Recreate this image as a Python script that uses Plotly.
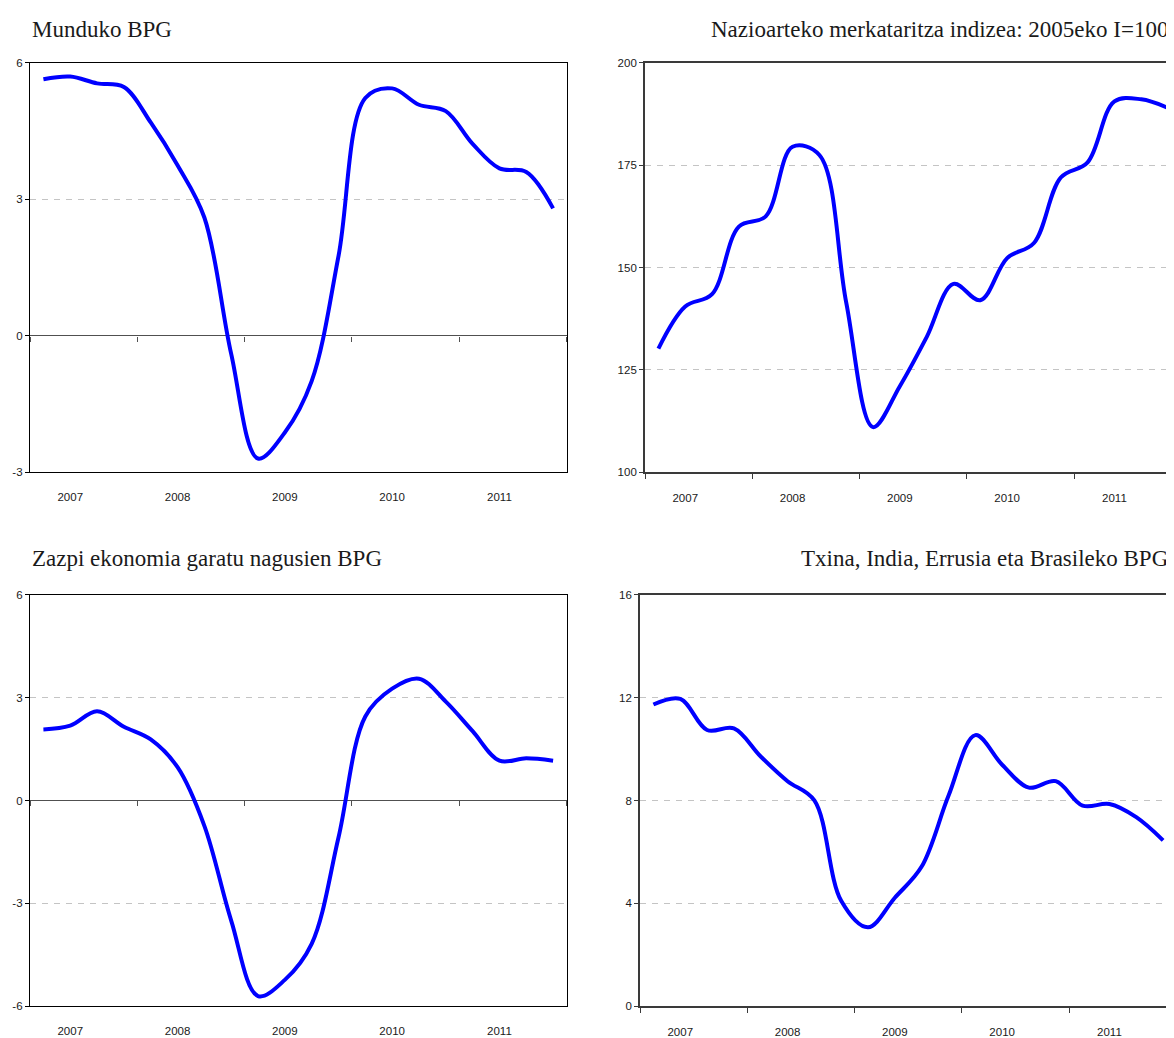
import plotly.graph_objects as go

# ---------------- data ----------------
quarters = ["2007Q1", "2007Q2", "2007Q3", "2007Q4",
            "2008Q1", "2008Q2", "2008Q3", "2008Q4",
            "2009Q1", "2009Q2", "2009Q3", "2009Q4",
            "2010Q1", "2010Q2", "2010Q3", "2010Q4",
            "2011Q1", "2011Q2", "2011Q3", "2011Q4"]
year_labels = ["2007", "2008", "2009", "2010", "2011"]

world_gdp = [5.64, 5.70, 5.55, 5.47, 4.69, 3.75, 2.60, -0.40, -2.70, -2.13,
             -1.00, 1.75, 5.23, 5.44, 5.08, 4.94, 4.22, 3.68, 3.60, 2.80]
trade_index = [130.2, 140.5, 143.5, 160.0, 162.5, 179.5, 177.5, 141.5, 111.0, 121.0,
               133.0, 146.0, 142.0, 152.3, 156.0, 172.0, 175.7, 190.6, 191.1, 189.0]
g7_gdp = [2.07, 2.18, 2.60, 2.15, 1.78, 0.97, -0.74, -3.50, -5.70, -5.23,
          -4.18, -1.08, 2.45, 3.26, 3.55, 2.88, 2.02, 1.16, 1.23, 1.16]
bric_gdp = [11.73, 11.95, 10.74, 10.80, 9.71, 8.75, 8.00, 4.10, 3.07, 4.22,
            5.43, 8.18, 10.54, 9.39, 8.50, 8.75, 7.80, 7.86, 7.35, 6.45]

titles = ["Munduko BPG",
          "Nazioarteko merkataritza indizea: 2005eko I=100",
          "Zazpi ekonomia garatu nagusien BPG",
          "Txina, India, Errusia eta Brasileko BPG"]

# ---------------- layout helpers ----------------
WIN_W, WIN_H = 1174, 1038
OFF = 8                                 # page body margin
W, H = WIN_W - OFF, WIN_H - OFF
n = len(quarters)
xq = [i + 0.5 for i in range(n)]                 # category centres
band_ticks = list(range(0, n + 1, 4))              # year boundaries
label_pos = [4 * k + 1.5 for k in range(len(year_labels))]
band_px = 536.5 / n                                # pixels per quarter


def fx(px):
    return (px - OFF) / W


def fy(py):
    return 1 - (py - OFF) / H


TICKFONT = dict(family="Liberation Sans Narrow, Arial Narrow, Liberation Sans, Arial", size=11.5, color="#1a1a1a")
TITLEFONT = dict(family="Liberation Serif, Times New Roman, serif", size=23, color="#1a1a1a")
BLUE = "#0000FF"
GRID = "#c4c4c4"

# panel pixel boxes in window pixels: (x0, x1, y0, y1), title gap
panels = [
    dict(series=world_gdp, box=(30, 566.5, 57.5, 471.5), yr=(-3, 6), yt=[-3, 0, 3, 6], left=True, tgap=34),
    dict(series=trade_index, box=(645, 1174, 57.5, 471.5), yr=(100, 200), yt=[100, 125, 150, 175, 200], left=False, tgap=34),
    dict(series=g7_gdp, box=(30, 566.5, 595.5, 1012), yr=(-6, 6), yt=[-6, -3, 0, 3, 6], left=True, tgap=37),
    dict(series=bric_gdp, box=(640, 1174, 595.5, 1012), yr=(0, 16), yt=[0, 4, 8, 12, 16], left=False, tgap=37),
]

fig = go.Figure()
layout = dict(width=W, height=H, margin=dict(l=0, r=0, t=0, b=0),
              paper_bgcolor="white", plot_bgcolor="white", showlegend=False)
annotations = []
extra_axis = 5

for k, p in enumerate(panels):
    idx = "" if k == 0 else str(k + 1)
    x0, x1, y0, y1 = p["box"]
    xmax = (x1 - x0) / band_px
    lc = "black" if p["left"] else "#3a3a3a"
    lw = 1.2 if p["left"] else 1.8
    xd = [max(0, fx(x0)), min(1, fx(x1))]
    yd = [fy(y1), fy(y0)]

    fig.add_trace(go.Scatter(x=xq, y=p["series"], mode="lines",
                             line=dict(color=BLUE, width=4, shape="spline", smoothing=1.0),
                             xaxis="x" + idx, yaxis="y" + idx, hoverinfo="skip"))

    xa = dict(domain=xd, anchor="y" + idx, range=[0, xmax], showgrid=False, zeroline=False,
              showline=True, linecolor=lc, linewidth=lw, mirror=True,
              tickmode="array", tickvals=label_pos, ticktext=year_labels,
              tickfont=TICKFONT, ticklabelstandoff=14, ticks="")
    if not p["left"]:
        xa["minor"] = dict(tickmode="array", tickvals=band_ticks, ticks="outside",
                           ticklen=5, tickwidth=1.2, tickcolor=lc, showgrid=False)
    ya = dict(domain=yd, anchor="x" + idx, range=list(p["yr"]), tickmode="array",
              tickvals=p["yt"], ticktext=[str(v) for v in p["yt"]],
              ticks="outside", ticklen=4, tickwidth=1, tickcolor=lc,
              showline=True, linecolor=lc, linewidth=lw, mirror=p["left"],
              showgrid=True, gridcolor=GRID, gridwidth=1, griddash="6px,6px",
              zeroline=p["left"], zerolinecolor="#505050", zerolinewidth=1.2,
              tickfont=TICKFONT)
    layout["xaxis" + idx] = xa
    layout["yaxis" + idx] = ya

    if p["left"]:
        # category axis crossing at zero: tick marks on the zero line
        ylo, yhi = p["yr"]
        pos = yd[0] + (0 - ylo) / (yhi - ylo) * (yd[1] - yd[0])
        ename = "xaxis" + str(extra_axis)
        layout[ename] = dict(overlaying="x" + idx, anchor="free", position=pos,
                             range=[0, xmax], showline=False, showgrid=False, zeroline=False,
                             tickmode="array", tickvals=band_ticks, ticks="outside",
                             ticklen=5, tickwidth=1.2, tickcolor="#505050",
                             showticklabels=False)
        fig.add_trace(go.Scatter(x=[], y=[], xaxis="x" + str(extra_axis), yaxis="y" + idx,
                                 hoverinfo="skip"))
        extra_axis += 1

    # title
    ty = fy(y0 - p["tgap"])
    if p["left"]:
        annotations.append(dict(text=titles[k], xref="paper", yref="paper",
                                x=fx(x0), y=ty, xanchor="left", yanchor="middle",
                                showarrow=False, font=TITLEFONT))
    else:
        annotations.append(dict(text=titles[k], xref="paper", yref="paper",
                                x=fx(1170), y=ty, xanchor="right", yanchor="middle",
                                showarrow=False, font=TITLEFONT))

layout["annotations"] = annotations
fig.update_layout(**layout)
fig.write_html("out.html")
